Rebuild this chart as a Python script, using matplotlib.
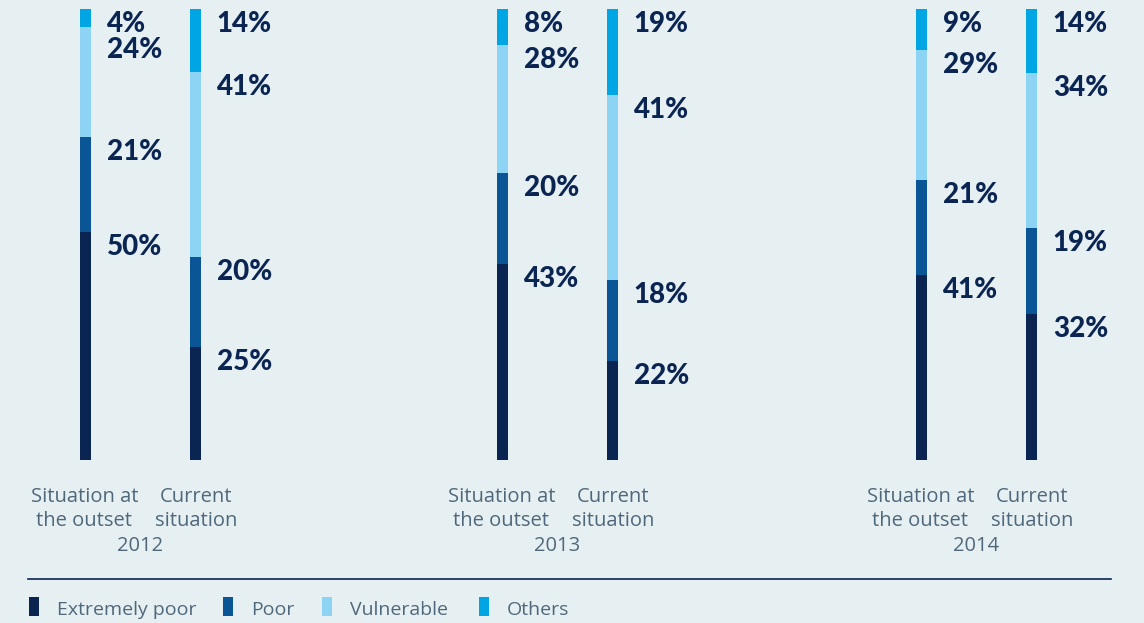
import matplotlib.pyplot as plt
from matplotlib.patches import Rectangle

# data (percent shares, bottom to top)
years      = ['2012', '2013', '2014']
categories = ['Extremely poor', 'Poor', 'Vulnerable', 'Others']
outset     = [[50, 21, 24, 4], [43, 20, 28, 8], [41, 21, 29, 9]]
current    = [[25, 20, 41, 14], [22, 18, 41, 19], [32, 19, 34, 14]]
bar_names  = ['Situation at\nthe outset', 'Current\nsituation']

colors = ['#0b2552', '#0a5596', '#8dd3f4', '#00a5e3']
bg     = '#e6eff1'
navy   = '#0b2552'
gray   = '#4f687b'

W, H = 1144, 623
fig = plt.figure(figsize=(W / 100, H / 100), dpi=100, facecolor=bg)
# axes: y 0..100 maps to 460px .. 9px from top
ax = fig.add_axes([0, (H - 460) / H, 1, 451 / H])
ax.set_xlim(0, W)
ax.set_ylim(0, 100)
ax.axis('off')
ax.set_facecolor(bg)

px = 451 / 100.0          # pixels per percent
group_x = [140.3, 557.3, 976.3]
offset = 55
bar_w = 11

lab_font = dict(family=['Lato', 'DejaVu Sans'], weight='black',
                size=20, color=navy)
cap_font = dict(family=['Open Sans', 'DejaVu Sans'], size=14.5, color=gray)
leg_font = dict(family=['Open Sans', 'DejaVu Sans'], size=14, color=gray)

for g, year in enumerate(years):
    for k, vals in enumerate([outset[g], current[g]]):
        x = group_x[g] + (k * 2 - 1) * offset
        total = float(sum(vals))
        shares = [v * 100 / total for v in vals]   # rounded labels, full bar
        bottom = 0
        tops = []
        for c, v in enumerate(shares):
            ax.bar(x, v, width=bar_w, bottom=bottom, color=colors[c],
                   linewidth=0)
            bottom += v
            tops.append(bottom)
        # value labels, from top down so they don't collide
        prev_base = None
        for c in range(len(vals) - 1, -1, -1):
            base = tops[c] - 23 / px
            if prev_base is not None and prev_base - base < 26 / px:
                base = prev_base - 26 / px
            prev_base = base
            ax.text(x + bar_w / 2 + 16, base, f'{vals[c]}%', ha='left',
                    va='baseline', **lab_font)
        # bar caption
        lines = bar_names[k].split('\n')
        for i, line in enumerate(lines):
            ax.annotate(line, xy=(x - 1 if k == 0 else x + 1, H - 502 - 24 * i),
                        xycoords=('data', 'figure pixels'),
                        ha='center', va='baseline', **cap_font)
    ax.annotate(year, xy=(group_x[g], H - 551),
                xycoords=('data', 'figure pixels'),
                ha='center', va='baseline', **cap_font)

# separator line
fig.add_artist(plt.Line2D([28 / W, 1110.5 / W], [(H - 579) / H] * 2,
                          color=navy, linewidth=1.2))

# legend
mark_x = [29, 223, 322, 479]
text_x = [57, 251, 350, 507]
for c, name in enumerate(categories):
    fig.add_artist(Rectangle((mark_x[c] / W, (H - 616) / H), 10 / W, 19 / H,
                             transform=fig.transFigure, color=colors[c],
                             linewidth=0))
    fig.text(text_x[c] / W, (H - 615) / H, name, ha='left', va='baseline',
             **leg_font)

fig.savefig('out.png', dpi=100, facecolor=bg)
